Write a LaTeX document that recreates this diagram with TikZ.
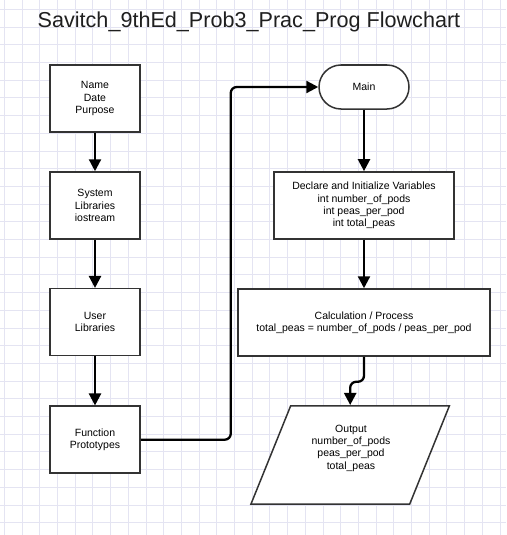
\documentclass[tikz,border=0pt]{standalone}
\usepackage{fontspec}
\setmainfont{Liberation Sans}
\usetikzlibrary{arrows.meta,shapes.geometric}
\definecolor{gridcol}{RGB}{228,228,242}
\definecolor{edgecol}{RGB}{51,51,51}

\begin{document}
\begin{tikzpicture}[x=1pt, y=-1pt,
    box/.style={draw=edgecol, line width=1.5pt, fill=white, minimum width=90pt, minimum height=67pt,
      inner sep=0pt, align=center, font=\fontsize{10.5}{12.2}\selectfont},
    flow/.style={draw=black, line width=2.3pt, -{Triangle[length=12pt,width=12pt]}}]
  \useasboundingbox (0,0) rectangle (506,535);
  \fill [white] (0,0) rectangle (506,535);
  % background grid
  \foreach \i in {0,...,28} \draw [gridcol, line width=.6pt] (4.2+17.7*\i,0) -- (4.2+17.7*\i,535);
  \foreach \i in {0,...,29} \draw [gridcol, line width=.6pt] (0,9.2+17.7*\i) -- (506,9.2+17.7*\i);

  \node (title) at (249,22) [font=\fontsize{21.6}{26}\selectfont, text=black!88] {Savitch\_9thEd\_Prob3\_Prac\_Prog Flowchart};

  \node (head) at (95,98.5) [box] {Name\\Date\\Purpose};
  \node (syslib) at (95,205.5) [box] {System\\Libraries\\iostream};
  \node (usrlib) at (95,322.2) [box] {User\\Libraries};
  \node (proto) at (95,439.7) [box] {Function\\Prototypes};

  \node (main) at (364,87) [box, minimum height=44pt, rounded corners=22pt] {Main};
  \node (decl) at (364,205.4) [box, minimum width=180pt] {Declare and Initialize Variables\\int number\_of\_pods\\int peas\_per\_pod\\int total\_peas};
  \node (calc) at (364,322.5) [box, minimum width=252pt] {Calculation / Process\\total\_peas = number\_of\_pods / peas\_per\_pod};
  \node (output) at (350.2,454.9) [box, shape=trapezium, trapezium left angle=68, trapezium right angle=112,
    minimum width=156pt, minimum height=98.3pt] {\phantom{M}};
  \node (outtext) at (351,448.3) [font=\fontsize{10.5}{12.2}\selectfont, align=center] {Output\\number\_of\_pods\\peas\_per\_pod\\total\_peas};

  \draw [flow] (head) -- (syslib);
  \draw [flow] (syslib) -- (usrlib);
  \draw [flow] (usrlib) -- (proto);
  \draw [flow, rounded corners=6pt] (proto.east) -- ++(90,0) |- (main.west);
  \draw [flow] (main) -- (decl);
  \draw [flow] (decl) -- (calc);
  \draw [flow, rounded corners=6pt] (calc.south) -- ++(0,25) -| (output.north);
\end{tikzpicture}
\end{document}
